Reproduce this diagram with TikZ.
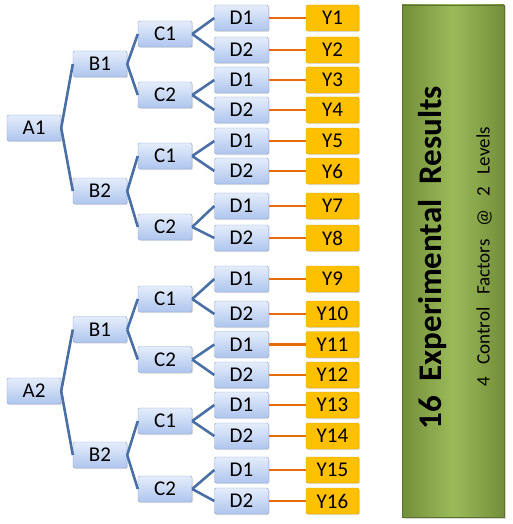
\documentclass[tikz,border=0pt]{standalone}
\usepackage{fontspec}
\setmainfont{Carlito}
\usepackage{xcolor}
\usepackage{tikz}
\usetikzlibrary{shadows}

\definecolor{boxtop}{HTML}{E4EDFB}
\definecolor{boxbottom}{HTML}{AFC5EE}
\definecolor{boxline}{HTML}{8AA5D6}
\definecolor{linkblue}{HTML}{4A6FA5}
\definecolor{yfill}{HTML}{FFC000}
\definecolor{yline}{HTML}{D9A200}
\definecolor{linkorange}{HTML}{E46C0A}
\definecolor{greendark}{HTML}{738E3A}
\definecolor{greenlight}{HTML}{9BBB59}

\begin{document}
\begin{tikzpicture}[x=1pt,y=-1pt,
    box/.style={draw=boxline,rounded corners=1.5pt,top color=boxtop,bottom color=boxbottom,
      minimum width=54pt,minimum height=26pt,inner sep=0pt,font=\fontsize{21}{21}\selectfont,
      drop shadow={opacity=0.25,shadow xshift=1pt,shadow yshift=-1pt}},
    ybox/.style={draw=yline,rounded corners=1.5pt,fill=yfill,
      minimum width=53pt,minimum height=26pt,inner sep=0pt,font=\fontsize{21}{21}\selectfont,
      drop shadow={opacity=0.25,shadow xshift=1pt,shadow yshift=-1pt}},
    link/.style={draw=linkblue,line width=2.6pt},
    ylink/.style={draw=linkorange,line width=2.6pt}]
  \useasboundingbox (0,0) rectangle (512,524);

  % result panel
  \path[left color=greendark,right color=greendark,middle color=greenlight,draw=greendark!80!black,
    drop shadow={opacity=0.3,shadow xshift=1.5pt,shadow yshift=-1.5pt}]
    (402,5) rectangle (504,517);
  \node[rotate=90,font=\fontsize{33}{33}\selectfont\bfseries] (title) at (433,258)
    {16\ \ Experimental\ \ Results};
  \node[rotate=90,font=\fontsize{19}{19}\selectfont] (subtitle) at (484,257)
    {4\ \ \ Control\ \ \ Factors\ \ \ @\ \ \ 2\ \ \ Levels};

  % tree
  \node[box] (a1) at (34,128) {A1};
  \node[box] (a2) at (34,391) {A2};
  \foreach \i/\y/\t in {1/64/B1,2/191/B2,3/329.5/B1,4/455/B2}
    \node[box] (b\i) at (100,\y) {\t};
  \foreach \i/\y/\t in {1/34/C1,2/95/C2,3/156/C1,4/227/C2,5/299/C1,6/359.5/C2,7/421/C1,8/489/C2}
    \node[box] (c\i) at (165,\y) {\t};
  \foreach \i/\y/\t in {1/18/D1,2/50/D2,3/80/D1,4/110/D2,5/141/D1,6/171/D2,7/206/D1,8/238/D2,
      9/279/D1,10/314/D2,11/344.5/D1,12/375/D2,13/405/D1,14/436/D2,15/470/D1,16/501/D2}
  {
    \node[box] (d\i) at (241.5,\y) {\t};
    \node[ybox] (y\i) at (332.5,\y) {Y\i};
    \draw[ylink] (d\i.east) -- (y\i.west);
  }

  \foreach \p/\c in {a1/b1,a1/b2,a2/b3,a2/b4,
      b1/c1,b1/c2,b2/c3,b2/c4,b3/c5,b3/c6,b4/c7,b4/c8,
      c1/d1,c1/d2,c2/d3,c2/d4,c3/d5,c3/d6,c4/d7,c4/d8,
      c5/d9,c5/d10,c6/d11,c6/d12,c7/d13,c7/d14,c8/d15,c8/d16}
    \draw[link] (\p.east) -- (\c.west);
\end{tikzpicture}
\end{document}
